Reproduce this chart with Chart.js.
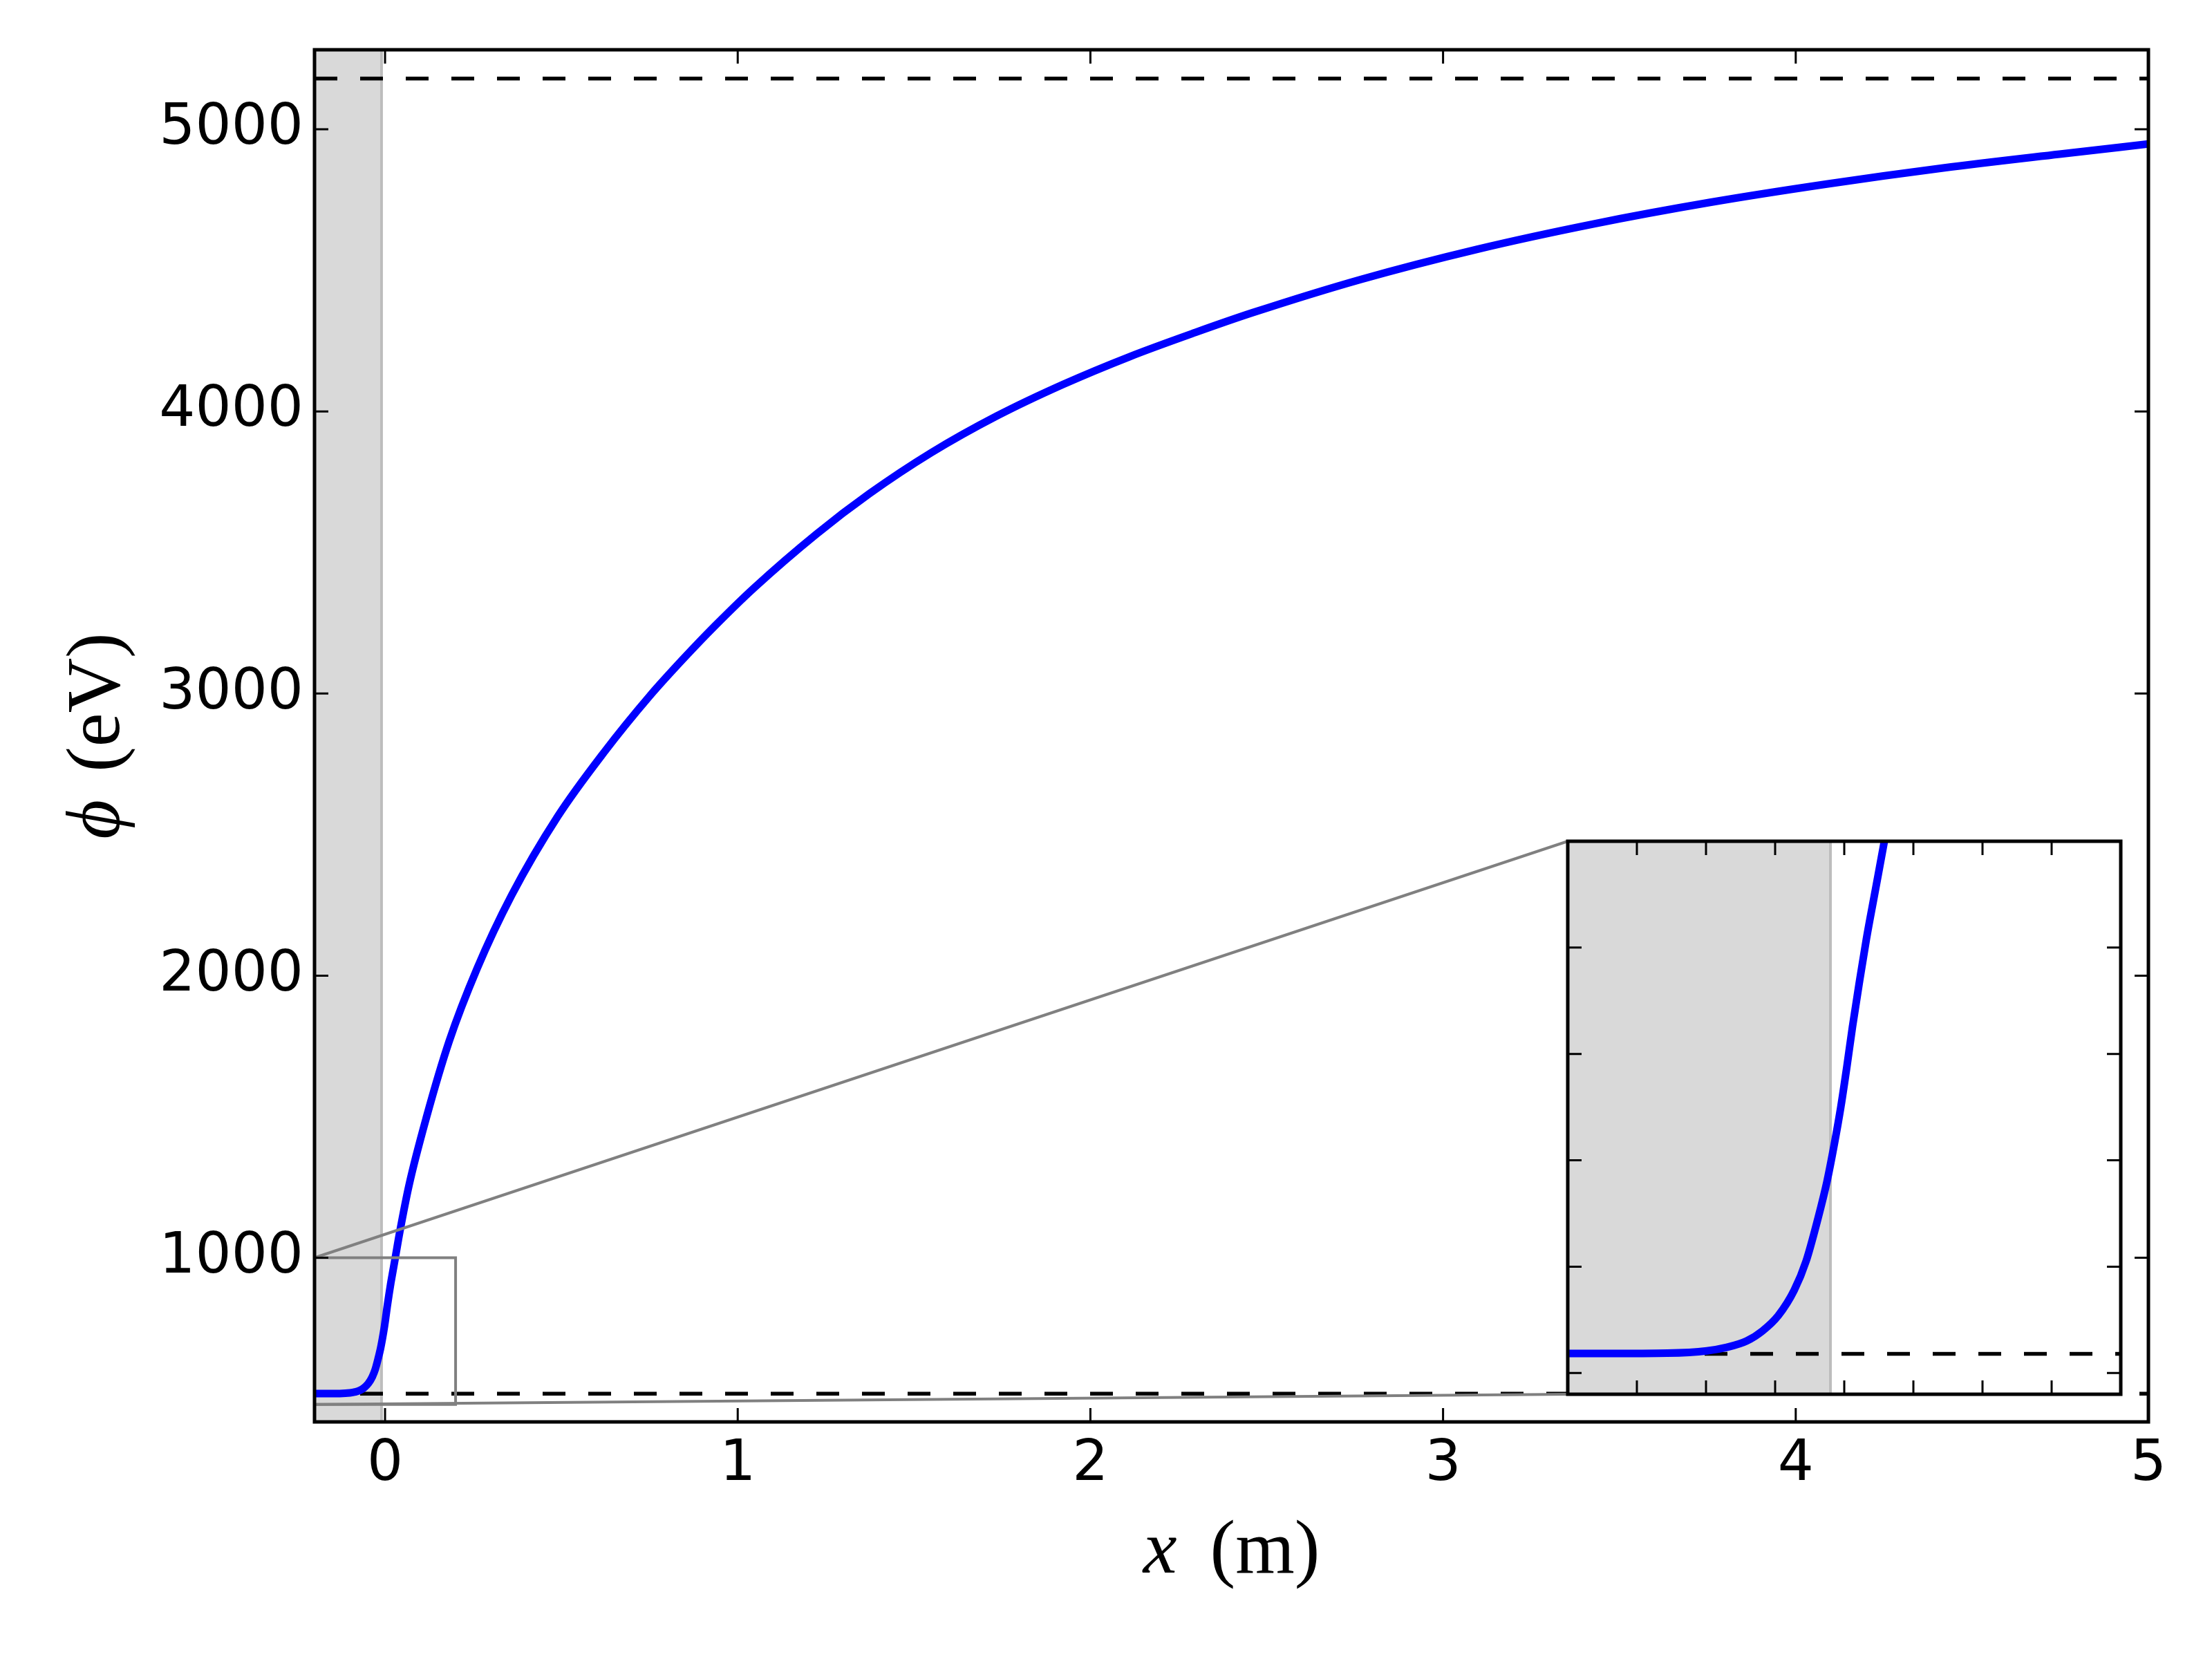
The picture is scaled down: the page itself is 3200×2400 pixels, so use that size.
<!DOCTYPE html>
<html>
<head>
<meta charset="utf-8">
<script src="https://cdn.jsdelivr.net/npm/chart.js@4.4.1/dist/chart.umd.min.js"></script>
<style>
  html, body { margin: 0; padding: 0; background: #fff; }
  #wrap { position: relative; width: 3200px; height: 2400px; }
  #main { position: absolute; left: 0; top: 0; }
  #inset { position: absolute; left: 2258px; top: 1207px; }
</style>
</head>
<body>
<div id="wrap">
  <canvas id="main" width="3200" height="2400"></canvas>
  <canvas id="inset" width="820" height="820"></canvas>
</div>
<script>
// ---------------- data ----------------
const xValues = [-0.2, -0.15, -0.128, -0.0994, -0.085, -0.0707, -0.0592, -0.0477, -0.0362, -0.0276,
  -0.019, -0.0125, -0.0075, -0.0025, 0.002, 0.006, 0.011, 0.016, 0.0225, 0.029,
  0.042, 0.068, 0.117, 0.182, 0.261, 0.359, 0.49, 0.62, 0.751, 0.848,
  0.934, 1.047, 1.223, 1.373, 1.548, 1.735, 1.923, 2.111, 2.298, 2.46,
  2.767, 3.097, 3.428, 3.757, 4.088, 4.418, 4.748, 5.0];
const phiValues = [518.3, 518.4, 518.6, 520.8, 524.1, 530, 539.5, 554, 577.8, 605.2,
  645.4, 680, 713, 750, 789, 826, 868, 908, 954, 1000,
  1093, 1257, 1496, 1768, 2025, 2285, 2565, 2790, 2992, 3126,
  3238, 3375, 3565, 3708, 3853, 3984, 4096, 4194, 4280, 4350,
  4468, 4575, 4665, 4741, 4806, 4863, 4912, 4948];

const upperLevel = 5180;          // upper dashed line (eV)
const lowerLevel = 518;           // lower dashed line (eV)
const bandX = [-0.2, -0.01];      // shaded region (m)

const mainXRange = [-0.2, 5];
const mainYRange = [418, 5282];
const mainXTicks = [0, 1, 2, 3, 4, 5];
const mainXTickLabels = ['0', '1', '2', '3', '4', '5'];
const mainYTicks = [1000, 2000, 3000, 4000, 5000];
const mainYTickLabels = ['1000', '2000', '3000', '4000', '5000'];

const zoomXRange = [-0.2, 0.2];
const zoomYRange = [480, 1000];
const insetXTicks = [-0.15, -0.1, -0.05, 0, 0.05, 0.1, 0.15];
const insetYTicks = [500, 600, 700, 800, 900];

const xLabelVar = 'x', xLabelUnit = '(m)';
const yLabelVar = '\u03D5', yLabelUnit = '(eV)';

// ---------------- helpers ----------------
const curvePoints = xValues.map((x, i) => ({ x: x, y: phiValues[i] }));
const hLine = (r, y) => [{ x: r[0], y: y }, { x: r[1], y: y }];

const BLUE = '#0000ff';
const BAND = '#d9d9d9';
const BAND_EDGE = '#bdbdbd';
const GREY = '#808080';

function frameTicksPlugin(id) {
  return {
    id: id,
    afterDatasetsDraw(chart, args, o) {
      const { ctx, chartArea: a, scales } = chart;
      ctx.save();
      ctx.strokeStyle = '#000';
      ctx.lineWidth = o.tickWidth;
      ctx.beginPath();
      o.xTicks.forEach(v => {
        const px = scales.x.getPixelForValue(v);
        ctx.moveTo(px, a.bottom); ctx.lineTo(px, a.bottom - o.tickLen);
        ctx.moveTo(px, a.top); ctx.lineTo(px, a.top + o.tickLen);
      });
      o.yTicks.forEach(v => {
        const py = scales.y.getPixelForValue(v);
        ctx.moveTo(a.left, py); ctx.lineTo(a.left + o.tickLen, py);
        ctx.moveTo(a.right, py); ctx.lineTo(a.right - o.tickLen, py);
      });
      ctx.stroke();
      ctx.lineWidth = o.frameWidth;
      ctx.strokeRect(a.left, a.top, a.right - a.left, a.bottom - a.top);
      ctx.restore();
    }
  };
}

// ---------------- inset chart ----------------
const insetBg = {
  id: 'insetBg',
  beforeDatasetsDraw(chart) {
    const { ctx, chartArea: a } = chart;
    ctx.save();
    ctx.fillStyle = '#fff';
    ctx.fillRect(a.left, a.top, a.right - a.left, a.bottom - a.top);
    ctx.restore();
  }
};

const insetChart = new Chart(document.getElementById('inset'), {
  type: 'line',
  data: {
    datasets: [
      { data: curvePoints, borderColor: BLUE, borderWidth: 11, pointRadius: 0,
        cubicInterpolationMode: 'monotone', clip: 0, fill: false },
      { data: hLine(zoomXRange, lowerLevel), borderColor: '#000', borderWidth: 5.5,
        borderDash: [33, 33], pointRadius: 0, clip: 0, fill: false },
      { data: [{ x: bandX[1], y: zoomYRange[0] }, { x: bandX[1], y: zoomYRange[1] }],
        borderColor: BAND_EDGE, borderWidth: 4, pointRadius: 0, clip: 0, fill: false },
      { data: [{ x: bandX[0], y: zoomYRange[1] }, { x: bandX[1], y: zoomYRange[1] }],
        borderWidth: 0, borderColor: 'rgba(0,0,0,0)', backgroundColor: BAND,
        pointRadius: 0, fill: 'start', clip: 0 }
    ]
  },
  options: {
    responsive: false, animation: false, devicePixelRatio: 1,
    layout: { padding: 10 },
    plugins: {
      legend: { display: false }, tooltip: { enabled: false },
      insetTicks: { xTicks: insetXTicks, yTicks: insetYTicks, tickLen: 20, tickWidth: 3, frameWidth: 5 }
    },
    scales: {
      x: { type: 'linear', min: zoomXRange[0], max: zoomXRange[1], display: false },
      y: { type: 'linear', min: zoomYRange[0], max: zoomYRange[1], display: false }
    }
  },
  plugins: [insetBg, frameTicksPlugin('insetTicks')]
});

// ---------------- main chart ----------------
const insetOffset = { left: 2258, top: 1207 };

const connectors = {
  id: 'connectors',
  afterDatasetsDraw(chart) {
    const { ctx, scales } = chart;
    const ia = insetChart.chartArea;
    const p1 = { x: scales.x.getPixelForValue(zoomXRange[0]), y: scales.y.getPixelForValue(zoomYRange[1]) };
    const p2 = { x: scales.x.getPixelForValue(zoomXRange[0]), y: scales.y.getPixelForValue(zoomYRange[0]) };
    const q1 = { x: insetOffset.left + ia.left, y: insetOffset.top + ia.top };
    const q2 = { x: insetOffset.left + ia.left, y: insetOffset.top + ia.bottom };
    ctx.save();
    ctx.strokeStyle = GREY;
    ctx.lineWidth = 4;
    ctx.beginPath();
    ctx.moveTo(p1.x, p1.y); ctx.lineTo(q1.x, q1.y);
    ctx.moveTo(p2.x, p2.y); ctx.lineTo(q2.x, q2.y);
    ctx.stroke();
    ctx.restore();
  }
};

const axisTitles = {
  id: 'axisTitles',
  afterDraw(chart) {
    const { ctx, chartArea: a } = chart;
    const italic = "italic 110px 'Liberation Serif'";
    const roman = "110px 'Liberation Serif'";
    ctx.save();
    ctx.fillStyle = '#000';
    ctx.textBaseline = 'alphabetic';
    ctx.textAlign = 'left';
    // x title
    ctx.font = italic; const w1 = ctx.measureText(xLabelVar).width;
    ctx.font = roman; const w2 = ctx.measureText(xLabelUnit).width;
    const gap = 48;
    let x0 = (a.left + a.right) / 2 - (w1 + gap + w2) / 2;
    const yb = a.bottom + 218;
    ctx.font = italic; ctx.fillText(xLabelVar, x0, yb);
    ctx.font = roman; ctx.fillText(xLabelUnit, x0 + w1 + gap, yb);
    // y title
    ctx.font = italic; const v1 = ctx.measureText(yLabelVar).width;
    ctx.font = roman; const v2 = ctx.measureText(yLabelUnit).width;
    const gapY = 40;
    ctx.translate(a.left - 283, (a.top + a.bottom) / 2);
    ctx.rotate(-Math.PI / 2);
    const s0 = -(v1 + gapY + v2) / 2;
    ctx.font = italic; ctx.fillText(yLabelVar, s0, 0);
    ctx.font = roman; ctx.fillText(yLabelUnit, s0 + v1 + gapY, 0);
    ctx.restore();
  }
};

const tickFont = { family: "'DejaVu Sans'", size: 82 };

new Chart(document.getElementById('main'), {
  type: 'line',
  data: {
    datasets: [
      { data: [{ x: zoomXRange[0], y: zoomYRange[1] }, { x: zoomXRange[1], y: zoomYRange[1] },
               { x: zoomXRange[1], y: zoomYRange[0] }, { x: zoomXRange[0], y: zoomYRange[0] }],
        borderColor: GREY, borderWidth: 4, pointRadius: 0, clip: 0, fill: false },
      { data: curvePoints, borderColor: BLUE, borderWidth: 11, pointRadius: 0,
        cubicInterpolationMode: 'monotone', clip: 0, fill: false },
      { data: hLine(mainXRange, upperLevel), borderColor: '#000', borderWidth: 5.5,
        borderDash: [33, 33], pointRadius: 0, clip: 0, fill: false },
      { data: hLine(mainXRange, lowerLevel), borderColor: '#000', borderWidth: 5.5,
        borderDash: [33, 33], pointRadius: 0, clip: 0, fill: false },
      { data: [{ x: bandX[1], y: mainYRange[0] }, { x: bandX[1], y: mainYRange[1] }],
        borderColor: BAND_EDGE, borderWidth: 4, pointRadius: 0, clip: 0, fill: false },
      { data: [{ x: bandX[0], y: mainYRange[1] }, { x: bandX[1], y: mainYRange[1] }],
        borderWidth: 0, borderColor: 'rgba(0,0,0,0)', backgroundColor: BAND,
        pointRadius: 0, fill: 'start', clip: 0 }
    ]
  },
  options: {
    responsive: false, animation: false, devicePixelRatio: 1,
    layout: { padding: { left: 0, top: 72, right: 92, bottom: 0 } },
    plugins: {
      legend: { display: false }, tooltip: { enabled: false },
      mainTicks: { xTicks: mainXTicks, yTicks: mainYTicks, tickLen: 20, tickWidth: 3, frameWidth: 5 }
    },
    scales: {
      x: {
        type: 'linear', min: mainXRange[0], max: mainXRange[1],
        grid: { display: false, drawTicks: false },
        border: { display: false },
        afterBuildTicks: s => { s.ticks = mainXTicks.map(v => ({ value: v })); },
        afterFit: s => { s.height = 343; },
        ticks: {
          color: '#000', font: tickFont, padding: 14, maxRotation: 0, autoSkip: false,
          callback: (v) => mainXTickLabels[mainXTicks.indexOf(v)]
        }
      },
      y: {
        type: 'linear', min: mainYRange[0], max: mainYRange[1],
        grid: { display: false, drawTicks: false },
        border: { display: false },
        afterBuildTicks: s => { s.ticks = mainYTicks.map(v => ({ value: v })); },
        afterFit: s => { s.width = 455; },
        ticks: {
          color: '#000', font: tickFont, padding: 16, autoSkip: false,
          callback: (v) => mainYTickLabels[mainYTicks.indexOf(v)]
        }
      }
    }
  },
  plugins: [connectors, frameTicksPlugin('mainTicks'), axisTitles]
});
</script>
</body>
</html>
